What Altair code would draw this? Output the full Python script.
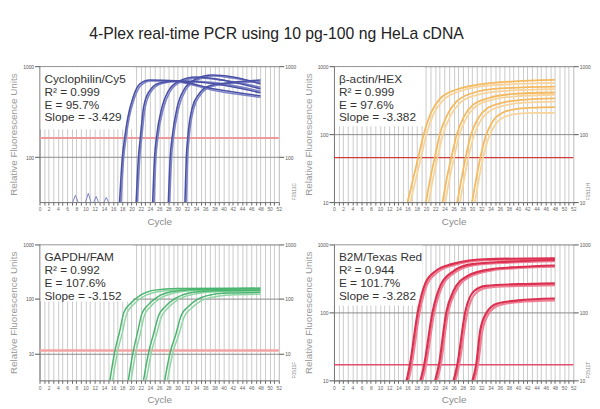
import altair as alt
import pandas as pd

FONT = "Liberation Sans, Arial, sans-serif"

TITLE = "4-Plex real-time PCR using 10 pg-100 ng HeLa cDNA"
Y_TITLE = "Relative Fluorescence Units"
X_TITLE = "Cycle"
X_DOMAIN = [0, 52]
CYCLE_TICKS = list(range(0, 53))

# ---------------- Panel 1: Cyclophilin/Cy5 ----------------
CYCLO_LABEL = ["Cyclophilin/Cy5", "R\u00b2 = 0.999", "E = 95.7%", "Slope = -3.429"]
CYCLO_DOMAIN = [32, 1000]
CYCLO_TICKS = [100, 1000]
CYCLO_THRESHOLD = 162
CYCLO_CYC_A = [
    [17.4, 18.0, 18.5, 19.2, 20.3, 21.8, 23.9, 29.6, 38.0, 48.0],
    [21.0, 21.5, 21.9, 22.6, 23.9, 26.1, 30.0, 38.0, 48.0],
    [24.6, 25.0, 25.4, 26.6, 28.0, 30.4, 34.0, 40.0, 48.0],
    [28.0, 28.4, 28.8, 29.9, 31.5, 34.0, 37.5, 42.0, 48.0],
    [31.6, 31.9, 32.2, 33.2, 34.7, 36.8, 41.0, 48.0],
]
CYCLO_RFU_A = [
    [32, 100, 162, 273, 450, 638, 705, 690, 560, 473],
    [32, 100, 162, 351, 536, 655, 688, 640, 510],
    [32, 100, 162, 351, 536, 688, 760, 700, 563],
    [32, 100, 162, 351, 563, 723, 799, 760, 638],
    [32, 100, 162, 351, 498, 607, 655, 705],
]
CYCLO_CYC_B = [
    [17.7, 18.3, 18.8, 19.5, 20.6, 22.1, 24.2, 30.0, 38.0, 48.0],
    [21.3, 21.8, 22.2, 22.9, 24.2, 26.4, 30.5, 38.0, 48.0],
    [24.9, 25.3, 25.7, 26.9, 28.3, 30.7, 34.5, 40.0, 48.0],
    [28.3, 28.7, 29.1, 30.2, 31.8, 34.3, 37.8, 42.0, 48.0],
    [31.9, 32.2, 32.5, 33.5, 35.0, 37.1, 41.0, 48.0],
]
CYCLO_RFU_B = [
    [32, 100, 162, 273, 440, 620, 690, 670, 540, 455],
    [32, 100, 162, 340, 520, 640, 690, 660, 530],
    [32, 100, 162, 340, 520, 670, 740, 700, 590],
    [32, 100, 162, 340, 550, 705, 780, 740, 660],
    [32, 100, 162, 340, 485, 592, 640, 680],
]
CYCLO_BLIP_CYC = [[7.2, 7.8, 8.4], [10.0, 10.6, 11.2], [11.8, 12.3, 12.8], [14.0, 14.5, 15.0]]
CYCLO_BLIP_RFU = [[32, 38, 32], [32, 40, 32], [32, 37, 32], [32, 36, 32]]

# ---------------- Panel 2: beta-actin/HEX ----------------
ACTIN_LABEL = ["\u03b2-actin/HEX", "R\u00b2 = 0.999", "E = 97.6%", "Slope = -3.382"]
ACTIN_DOMAIN = [10, 1000]
ACTIN_TICKS = [10, 100, 1000]
ACTIN_THRESHOLD = 45
ACTIN_CYC_A = [
    [16.0, 17.2, 18.3, 19.5, 21.0, 23.0, 26.5, 33.5, 48.0],
    [20.0, 20.9, 21.9, 23.0, 24.6, 26.6, 30.0, 36.0, 48.0],
    [23.6, 24.5, 25.5, 26.6, 28.2, 30.2, 33.6, 39.0, 48.0],
    [26.8, 27.7, 28.6, 29.7, 31.3, 33.3, 36.6, 41.0, 48.0],
    [30.0, 30.9, 31.8, 32.9, 34.5, 36.5, 39.6, 43.0, 48.0],
]
ACTIN_RFU_A = [
    [10, 22, 45, 100, 200, 330, 450, 560, 627],
    [10, 22, 45, 100, 190, 300, 400, 470, 500],
    [10, 22, 45, 95, 180, 270, 340, 390, 410],
    [10, 22, 45, 95, 170, 240, 290, 320, 335],
    [10, 22, 45, 90, 155, 205, 235, 245, 250],
]
ACTIN_CYC_B = [
    [16.6, 17.8, 18.9, 20.1, 21.6, 23.6, 27.0, 34.0, 48.0],
    [20.6, 21.5, 22.5, 23.6, 25.2, 27.2, 30.6, 36.5, 48.0],
    [24.2, 25.1, 26.1, 27.2, 28.8, 30.8, 34.2, 39.5, 48.0],
    [27.4, 28.3, 29.2, 30.3, 31.9, 33.9, 37.2, 41.5, 48.0],
    [30.6, 31.5, 32.4, 33.5, 35.1, 37.1, 40.2, 43.5, 48.0],
]
ACTIN_RFU_B = [
    [10, 22, 45, 100, 195, 310, 420, 520, 570],
    [10, 22, 45, 95, 180, 280, 370, 430, 460],
    [10, 22, 45, 95, 175, 255, 320, 360, 380],
    [10, 22, 45, 90, 160, 220, 265, 290, 300],
    [10, 22, 45, 85, 140, 180, 200, 205, 205],
]

# ---------------- Panel 3: GAPDH/FAM ----------------
GAPDH_LABEL = ["GAPDH/FAM", "R\u00b2 = 0.992", "E = 107.6%", "Slope = -3.152"]
GAPDH_DOMAIN = [3.2, 1000]
GAPDH_TICKS = [10, 100, 1000]
GAPDH_THRESHOLD = 11.3
GAPDH_CYC_A = [
    [15.3, 16.4, 17.4, 18.3, 19.6, 21.8, 25.0, 30.0, 48.0],
    [19.3, 20.4, 21.3, 22.2, 23.5, 25.6, 28.6, 33.0, 48.0],
    [22.6, 23.8, 24.8, 25.9, 27.3, 29.5, 32.5, 37.0, 48.0],
    [27.2, 28.5, 29.6, 30.8, 32.3, 34.5, 37.5, 41.0, 48.0],
]
GAPDH_RFU_A = [
    [3.2, 11.3, 25, 56, 80, 115, 145, 155, 158],
    [3.2, 11.3, 24, 52, 76, 108, 135, 148, 152],
    [3.2, 11.3, 23, 50, 72, 102, 128, 140, 145],
    [3.2, 11.3, 22, 50, 72, 100, 120, 128, 132],
]
GAPDH_CYC_B = [
    [15.9, 17.0, 18.0, 18.9, 20.2, 22.4, 25.6, 30.5, 48.0],
    [19.9, 21.0, 21.9, 22.8, 24.1, 26.2, 29.2, 33.5, 48.0],
    [23.2, 24.4, 25.4, 26.5, 27.9, 30.1, 33.1, 37.5, 48.0],
    [27.8, 29.1, 30.2, 31.4, 32.9, 35.1, 38.1, 41.5, 48.0],
]
GAPDH_RFU_B = [
    [3.2, 11.3, 24, 52, 76, 108, 135, 148, 152],
    [3.2, 11.3, 23, 50, 72, 102, 128, 142, 146],
    [3.2, 11.3, 22, 47, 68, 97, 120, 134, 140],
    [3.2, 11.3, 21, 46, 66, 92, 110, 118, 122],
]

# ---------------- Panel 4: B2M/Texas Red ----------------
B2M_LABEL = ["B2M/Texas Red", "R\u00b2 = 0.944", "E = 101.7%", "Slope = -3.282"]
B2M_DOMAIN = [10, 1000]
B2M_TICKS = [10, 100, 1000]
B2M_THRESHOLD = 17
B2M_CYC_A = [
    [15.8, 16.5, 18.2, 19.8, 22.1, 25.6, 32.7, 48.0],
    [18.8, 19.6, 21.4, 23.3, 26.0, 30.0, 38.0, 48.0],
    [22.0, 22.8, 24.4, 26.0, 29.0, 34.0, 40.0, 48.0],
    [26.0, 26.8, 28.5, 30.5, 33.0, 40.0, 48.0],
    [30.1, 30.9, 31.8, 33.2, 35.5, 40.0, 48.0],
]
B2M_RFU_A = [
    [10, 17, 100, 263, 406, 513, 606, 627],
    [10, 17, 100, 263, 406, 513, 560, 590],
    [10, 17, 100, 208, 343, 430, 465, 490],
    [10, 17, 100, 208, 246, 260, 268],
    [10, 17, 55, 100, 135, 150, 160],
]
B2M_CYC_B = [
    [16.2, 16.9, 18.6, 20.2, 22.5, 26.0, 33.0, 48.0],
    [19.2, 20.0, 21.8, 23.7, 26.4, 30.4, 38.0, 48.0],
    [22.4, 23.2, 24.8, 26.4, 29.4, 34.4, 40.0, 48.0],
    [26.4, 27.2, 28.9, 30.9, 33.4, 40.0, 48.0],
    [30.5, 31.3, 32.2, 33.6, 35.9, 40.0, 48.0],
]
B2M_RFU_B = [
    [10, 17, 100, 255, 390, 495, 585, 605],
    [10, 17, 100, 255, 390, 495, 540, 567],
    [10, 17, 100, 200, 330, 415, 450, 470],
    [10, 17, 95, 195, 232, 245, 252],
    [10, 17, 52, 95, 128, 142, 150],
]

FIG_IDS = ["F0511C", "F0511H", "F0511F", "F0511T"]

PANEL_W = 243
PANEL_H = 138


def curves_df(cycles, rfu, tag):
    rows = []
    for i, (cs, vs) in enumerate(zip(cycles, rfu)):
        for c, v in zip(cs, vs):
            rows.append({"curve": f"{tag}{i}", "cycle": c, "rfu": v})
    return pd.DataFrame(rows)


def panel(label, domain, ticks, threshold, cyc_a, rfu_a, cyc_b, rfu_b,
          col_a, col_b, lw, thr_color, thr_width, box_w, box_h, fig_id,
          blip_cyc=None, blip_rfu=None):
    xs = alt.Scale(domain=X_DOMAIN, nice=False, zero=False)
    ys = alt.Scale(type="log", domain=domain, nice=False)
    x_axis = alt.Axis(
        values=CYCLE_TICKS,
        labelExpr="datum.value % 2 == 0 ? datum.label : ''",
        labelFontSize=5, labelColor="#666", labelPadding=2, labelOverlap=False,
        labelFlush=False, tickSize=3, tickColor="#666", grid=True,
        gridColor="#bdbdbd", gridWidth=0.8, domainColor="#777",
        title=X_TITLE, titleFontSize=10, titleColor="#8a8a8a",
        titleFontWeight="normal", titlePadding=5,
    )
    left_axis = alt.Axis(
        values=ticks, format="d", labelFontSize=5, labelColor="#555",
        labelPadding=1, tickSize=5, tickColor="#555", grid=True,
        gridColor="#8a8a8a", gridWidth=1, domainColor="#777",
        title=Y_TITLE, titleFontSize=10, titleColor="#9a9a9a",
        titleFontWeight="normal", titlePadding=4,
    )
    right_axis = alt.Axis(
        orient="right", values=ticks, format="d", labelFontSize=5,
        labelColor="#555", labelPadding=1, tickSize=5, tickColor="#555",
        grid=False, domain=False, title=None,
    )

    base = alt.Chart(pd.DataFrame({"k": [0]}))
    box = base.mark_rect(fill="white", stroke=None).encode(
        x=alt.value(1), x2=alt.value(box_w), y=alt.value(1), y2=alt.value(box_h)
    )
    thr = alt.Chart(pd.DataFrame({"rfu": [threshold]})).mark_rule(
        color=thr_color, strokeWidth=thr_width
    ).encode(y=alt.Y("rfu:Q", scale=ys, axis=right_axis))

    line_b = alt.Chart(curves_df(cyc_b, rfu_b, "b")).mark_line(
        color=col_b, strokeWidth=lw, interpolate="monotone", clip=True
    ).encode(
        x=alt.X("cycle:Q", scale=xs, axis=x_axis),
        y=alt.Y("rfu:Q", scale=ys, axis=None),
        detail="curve:N",
    )
    line_a = alt.Chart(curves_df(cyc_a, rfu_a, "a")).mark_line(
        color=col_a, strokeWidth=lw, interpolate="monotone", clip=True
    ).encode(
        x=alt.X("cycle:Q", scale=xs, axis=x_axis),
        y=alt.Y("rfu:Q", scale=ys, axis=left_axis),
        detail="curve:N",
    )
    layers = [box, thr, line_b, line_a]
    if blip_cyc is not None:
        blips = alt.Chart(curves_df(blip_cyc, blip_rfu, "n")).mark_line(
            color=col_b, strokeWidth=1, clip=True
        ).encode(
            x=alt.X("cycle:Q", scale=xs, axis=x_axis),
            y=alt.Y("rfu:Q", scale=ys, axis=None),
            detail="curve:N",
        )
        layers.append(blips)
    text = base.mark_text(
        align="left", baseline="top", font=FONT, fontSize=12, lineHeight=13,
        color="#333333",
    ).encode(x=alt.value(5), y=alt.value(8), text=alt.value(label))
    fig = base.mark_text(
        align="left", baseline="middle", angle=270, fontSize=5, color="#888888",
    ).encode(x=alt.value(PANEL_W + 15), y=alt.value(PANEL_H - 2), text=alt.value(fig_id))
    layers += [text, fig]
    return alt.layer(*layers).resolve_axis(y="independent").properties(
        width=PANEL_W, height=PANEL_H
    )


p1 = panel(CYCLO_LABEL, CYCLO_DOMAIN, CYCLO_TICKS, CYCLO_THRESHOLD,
           CYCLO_CYC_A, CYCLO_RFU_A, CYCLO_CYC_B, CYCLO_RFU_B,
           "#4a50a5", "#7d83c7", 1.6, "#ee9a9a", 2, 96, 64, FIG_IDS[0],
           CYCLO_BLIP_CYC, CYCLO_BLIP_RFU)
p2 = panel(ACTIN_LABEL, ACTIN_DOMAIN, ACTIN_TICKS, ACTIN_THRESHOLD,
           ACTIN_CYC_A, ACTIN_RFU_A, ACTIN_CYC_B, ACTIN_RFU_B,
           "#f5b95e", "#f9d49a", 1.8, "#cf3a3a", 1.2, 92, 61, FIG_IDS[1])
p3 = panel(GAPDH_LABEL, GAPDH_DOMAIN, GAPDH_TICKS, GAPDH_THRESHOLD,
           GAPDH_CYC_A, GAPDH_RFU_A, GAPDH_CYC_B, GAPDH_RFU_B,
           "#49b56e", "#8fd6a4", 1.5, "#f3a3a3", 2.5, 95, 58, FIG_IDS[2])
p4 = panel(B2M_LABEL, B2M_DOMAIN, B2M_TICKS, B2M_THRESHOLD,
           B2M_CYC_A, B2M_RFU_A, B2M_CYC_B, B2M_RFU_B,
           "#dc3050", "#ef7f95", 2.2, "#e0506e", 1.5, 90, 62, FIG_IDS[3])

row1 = alt.hconcat(p1, p2, spacing=5)
row2 = alt.hconcat(p3, p4, spacing=5)

chart = alt.vconcat(row1, row2, spacing=14).properties(
    title=alt.TitleParams(
        TITLE, font=FONT, fontSize=16, fontWeight="normal", color="#222222",
        anchor="start", dx=82, offset=22,
    ),
    padding={"left": 0, "top": 15, "right": 0, "bottom": 0},
    background="white",
).configure_view(stroke="#777777", strokeWidth=1).configure(font=FONT)

chart.save("out.html", embed_options={"renderer": "svg", "actions": False})
